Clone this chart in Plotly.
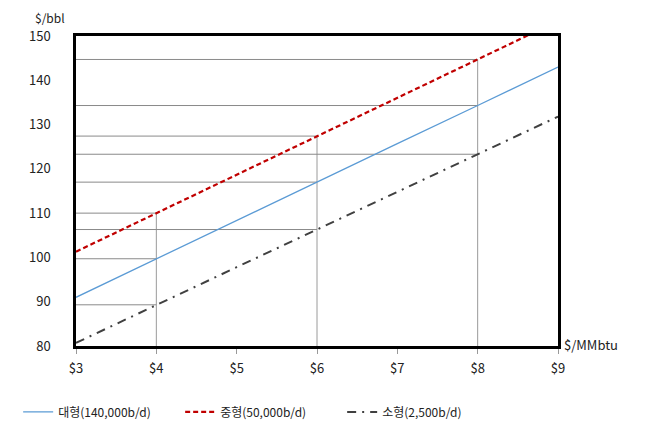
import plotly.graph_objects as go

# Data
gas_price = [3, 4, 5, 6, 7, 8, 9]                 # $/MMbtu
large = [91.0, 99.7, 108.3, 117.0, 125.7, 134.3, 143.0]     # 대형(140,000b/d)
medium = [101.3, 110.0, 118.7, 127.4, 136.1, 144.7, 153.4]  # 중형(50,000b/d)
small = [80.7, 89.3, 97.8, 106.3, 114.8, 123.3, 131.8]      # 소형(2,500b/d)
names = ["대형(140,000b/d)", "중형(50,000b/d)", "소형(2,500b/d)"]
x_ticks = ["$3", "$4", "$5", "$6", "$7", "$8", "$9"]
y_ticks = [80, 90, 100, 110, 120, 130, 140, 150]
ref_x = [4, 6, 8]   # guide lines at these prices

FONT = "Noto Sans CJK KR"

fig = go.Figure()

# guide lines (drawn under the series)
shapes = []
for xv in ref_x:
    i = gas_price.index(xv)
    top = max(v for v in (large[i], medium[i], small[i]) if v <= 150)
    shapes.append(dict(type="line", xref="x", yref="y", x0=xv, x1=xv, y0=80, y1=top,
                       line=dict(color="#9a9a9a", width=1), layer="below"))
    for s in (large, medium, small):
        if s[i] <= 150:
            shapes.append(dict(type="line", xref="x", yref="y", x0=gas_price[0], x1=xv,
                               y0=s[i], y1=s[i],
                               line=dict(color="#8a8a8a", width=1), layer="below"))

fig.add_trace(go.Scatter(x=gas_price, y=large, mode="lines", name=names[0],
                         line=dict(color="#5b9bd5", width=1.3)))
fig.add_trace(go.Scatter(x=gas_price, y=medium, mode="lines", name=names[1],
                         line=dict(color="#c00000", width=2.2, dash="5px,3px")))
fig.add_trace(go.Scatter(x=gas_price, y=small, mode="lines", name=names[2],
                         line=dict(color="#404040", width=2, dash="9px,6px,2px,6px")))

fig.update_layout(
    width=640, height=432,
    margin=dict(l=68, r=90, t=28, b=94, autoexpand=False),
    paper_bgcolor="white", plot_bgcolor="white",
    font=dict(family=FONT, size=13, color="#222222"),
    shapes=shapes,
    showlegend=True,
    legend=dict(orientation="h", x=-0.120, xanchor="left", y=-0.166, yanchor="top",
                font=dict(family=FONT, size=12, color="#222222"),
                entrywidth=117, entrywidthmode="pixels", itemwidth=30,
                bgcolor="rgba(0,0,0,0)"),
    xaxis=dict(range=[3, 9], tickvals=gas_price, ticktext=x_ticks,
               showgrid=False, zeroline=False, showline=True, linecolor="black",
               linewidth=2.5, mirror=True, ticks="outside", ticklen=5,
               tickcolor="#999999", tickwidth=1, ticklabelstandoff=4,
               tickfont=dict(size=13), automargin=False),
    yaxis=dict(range=[80, 150], tickvals=y_ticks, showgrid=False, zeroline=False,
               showline=True, linecolor="black", linewidth=2.5, mirror=True,
               ticks="", ticklabelstandoff=20, tickfont=dict(size=13), automargin=False),
    annotations=[
        dict(text="$/bbl", xref="paper", yref="paper", x=-0.054, y=1.0, yshift=28,
             xanchor="center", yanchor="top", showarrow=False, borderpad=0,
             font=dict(size=12)),
        dict(text="$/MMbtu", xref="paper", yref="paper", x=1.0, y=0.0, xshift=4,
             xanchor="left", yanchor="middle", yshift=2, showarrow=False,
             font=dict(size=13)),
    ],
)

fig.write_html("out.html")
